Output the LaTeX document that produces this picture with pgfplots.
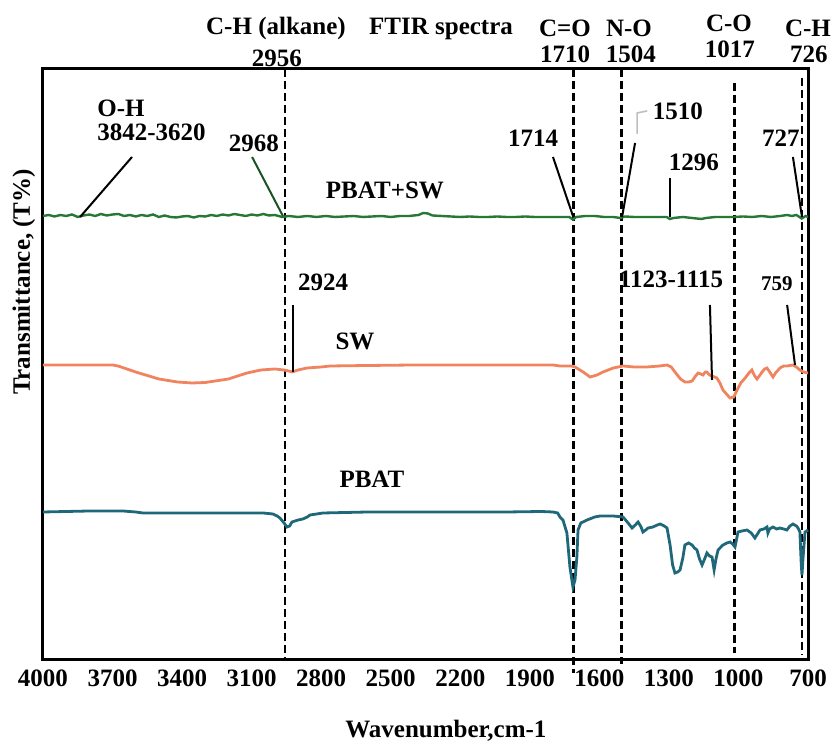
\documentclass[border=0pt]{standalone}
\usepackage{pgfplots}
\pgfplotsset{compat=1.18}
\usepackage{fontspec}
\setmainfont{Liberation Serif}
\definecolor{blendgreen}{RGB}{38,120,52}
\definecolor{swsalmon}{RGB}{240,132,95}
\definecolor{pbatteal}{RGB}{30,104,122}
\newcommand\lab{\bfseries\fontsize{12.5}{14}\selectfont}
\newcommand\labs{\bfseries\fontsize{10.5}{12}\selectfont}

% PBAT+SW spectrum (offset trace, arbitrary transmittance units)
\pgfplotstableread{
w t
4000 444
3975 445
3950 443.5
3925 445
3900 444
3875 445.5
3850 443
3825 444.5
3800 445.5
3775 444
3750 446
3725 444.5
3700 445.5
3675 446
3650 444
3625 445
3600 443.5
3575 445
3550 444
3525 445.5
3500 443
3475 444.5
3450 443
3425 442.5
3400 443.5
3375 444
3350 442.5
3325 444
3300 443.5
3275 445
3250 444
3225 445.5
3200 444.5
3175 446
3150 445
3125 444
3100 445.5
3075 444.5
3050 446
3025 444.5
3000 445
2968 443
2940 444
2900 443
2860 444
2820 443
2780 444
2740 443
2700 443.5
2660 444
2620 443
2580 443.5
2540 444
2500 443
2460 444
2420 444
2380 445
2360 447
2340 446.5
2320 444.5
2280 444
2240 443.5
2200 443
2160 443.5
2120 443
2080 443
2040 443.5
2000 443
1960 443
1920 443.5
1880 443
1840 443
1800 443
1760 443
1730 443
1714 440.5
1700 443
1660 444
1620 444
1580 443
1540 443
1510 442
1490 443.5
1450 443
1400 443
1350 443
1310 443
1296 441
1280 442
1240 443
1200 442
1160 441
1140 442
1100 443
1060 443
1020 443
980 443.5
940 443
900 444
860 443
820 444
790 445
770 444
750 445
727 441.5
710 444
700 443
}\blendtab

% SW spectrum
\pgfplotstableread{
w t
4000 295
3800 295
3700 295
3676 294
3600 288
3500 281
3420 278
3357 277
3300 277.5
3200 281
3120 287
3060 290
3000 291
2960 290
2940 289
2924 288
2900 290
2861 292
2800 293
2762 294
2600 294.5
2400 295
2200 295
2000 295
1800 295
1770 294
1720 294
1705 293
1670 288
1640 283
1610 285
1584 288
1540 292
1498 294
1450 293
1395 293
1340 294
1308 295
1290 293
1274 288
1250 281
1231 278
1215 278
1200 279
1185 284
1174 287
1163 286
1153 285
1143 288
1136 288
1125 285
1114 284
1093 282
1080 277
1067 270
1048 265
1036 262
1020 263
1006 270
990 277
971 282
955 287
942 290
930 284
920 281
910 284
898 288
887 291
877 292
865 288
851 283
840 287
821 292
805 294
791 294
765 295
750 293
735 290
720 288
700 287
}\swtab

% PBAT spectrum
\pgfplotstableread{
w t
4000 148
3800 149
3655 149
3600 148
3569 147
3400 147
3200 147
3050 147
3008 146
2990 144
2978 142
2960 137
2948 133
2936 134
2926 138
2900 140
2879 141
2860 143
2848 145
2820 146
2792 147
2600 148
2400 148
2200 148
2000 148
1850 148.5
1800 148
1780 147
1770 143
1757 140
1740 127
1727 93
1714 73
1705 80
1697 103
1692 130
1680 137
1653 140
1620 143
1597 144
1540 144
1498 143
1476 137
1459 132
1445 135
1433 138
1420 133
1412 128
1400 130
1390 132
1369 133
1350 135
1338 136
1320 134
1308 132
1295 115
1284 95
1274 87
1262 88
1252 90
1240 102
1231 115
1215 117
1200 115
1190 112
1179 110
1168 101
1157 95
1146 101
1136 107
1125 104
1114 103
1105 90
1097 101
1088 110
1067 115
1050 117
1036 118
1025 116
1015 113
1002 128
985 129
963 130
945 127
929 122
918 126
907 130
890 131
877 133
873 127
866 131
851 133
835 131
821 132
805 131
791 130
778 134
765 136
750 134
743 132
735 128
729 95
726 85
722 100
713 128
705 129
700 130
}\pbattab

\begin{document}
\begin{tikzpicture}
\begin{axis}[
  name=ftir,
  scale only axis,
  width=382.5pt, height=295.5pt,
  x dir=reverse,
  xmin=700, xmax=4000,
  ymin=0, ymax=591,
  xtick={700,1000,...,4000},
  ytick=\empty,
  major tick length=0pt,
  axis line style={line width=1.5pt},
  clip=false,
  /pgf/number format/assume math mode=true,
  /pgf/number format/set thousands separator={},
  xticklabel style={font=\lab, yshift=-1.5pt},
]
% reference band positions
\begin{scope}[line width=1.4pt, dash pattern=on 4pt off 2pt]
  \draw (axis cs:2956,591) -- (axis cs:2956,0);
  \draw (axis cs:1710,591) -- (axis cs:1710,-13);
  \draw (axis cs:1504,591) -- (axis cs:1504,-4);
  \draw (axis cs:1017,577) -- (axis cs:1017,7);
  \draw (axis cs:726,582) -- (axis cs:726,5);
\end{scope}

\addplot[blendgreen, line width=1.2pt, no marks] table[x=w,y=t] {\blendtab};
\addplot[swsalmon, line width=1.4pt, no marks] table[x=w,y=t] {\swtab};
\addplot[pbatteal, line width=1.4pt, no marks] table[x=w,y=t] {\pbattab};

% peak leaders
\begin{scope}[line width=1pt]
  \draw (axis cs:3616,503) -- (axis cs:3840,443);
  \draw[blendgreen!70!black] (axis cs:3098,503) -- (axis cs:2965,444);
  \draw (axis cs:1800,503) -- (axis cs:1714,444);
  \draw (axis cs:1446,517) -- (axis cs:1502,443);
  \draw (axis cs:1295,482) -- (axis cs:1295,443);
  \draw (axis cs:765,503) -- (axis cs:726,443);
  \draw (axis cs:2922,355) -- (axis cs:2922,288);
  \draw (axis cs:1123,355) -- (axis cs:1114,280);
  \draw (axis cs:790,355) -- (axis cs:756,295);
\end{scope}
\draw[gray!50, line width=0.8pt] (axis cs:1437,526) -- (axis cs:1437,547) -- (axis cs:1394,549);

% peak labels
\node[font=\lab, anchor=west, inner sep=0pt] at (axis cs:3767,552) {O-H};
\node[font=\lab, anchor=west, inner sep=0pt] at (axis cs:3767,528) {3842-3620};
\node[font=\lab] at (axis cs:3090,517) {2968};
\node[font=\lab] at (axis cs:2525,470) {PBAT+SW};
\node[font=\lab] at (axis cs:1886,522) {1714};
\node[font=\lab] at (axis cs:1261,549) {1510};
\node[font=\lab] at (axis cs:1192,498) {1296};
\node[font=\lab] at (axis cs:817,522) {727};
\node[font=\lab] at (axis cs:2792,378) {2924};
\node[font=\lab] at (axis cs:2654,319) {SW};
\node[font=\lab] at (axis cs:1291,381) {1123-1115};
\node[font=\labs] at (axis cs:834,376) {759};
\node[font=\lab] at (axis cs:2581,181) {PBAT};

% band assignments above the frame
\node[font=\lab] at (axis cs:2995,631) {C-H (alkane)};
\node[font=\lab] at (axis cs:2991,602) {2956};
\node[font=\lab] at (axis cs:2283,631) {FTIR spectra};
\node[font=\lab] at (axis cs:1748,632) {C=O};
\node[font=\lab] at (axis cs:1748,606) {1710};
\node[font=\lab] at (axis cs:1472,632) {N-O};
\node[font=\lab] at (axis cs:1464,606) {1504};
\node[font=\lab] at (axis cs:1041,637) {C-O};
\node[font=\lab] at (axis cs:1037,611) {1017};
\node[font=\lab] at (axis cs:700,632) {C-H};
\node[font=\lab] at (axis cs:696,606) {726};

% axis titles
\node[font=\lab] at (axis cs:2262,-71) {Wavenumber,cm-1};
\node[font=\lab, rotate=90] at (axis cs:4082,378) {Transmittance, (T\%)};
\end{axis}
\pgfresetboundingbox
\path ([shift={(-21.5pt,-43.5pt)}]ftir.south west) rectangle ([shift={(12.5pt,34.5pt)}]ftir.north east);
\end{tikzpicture}
\end{document}
